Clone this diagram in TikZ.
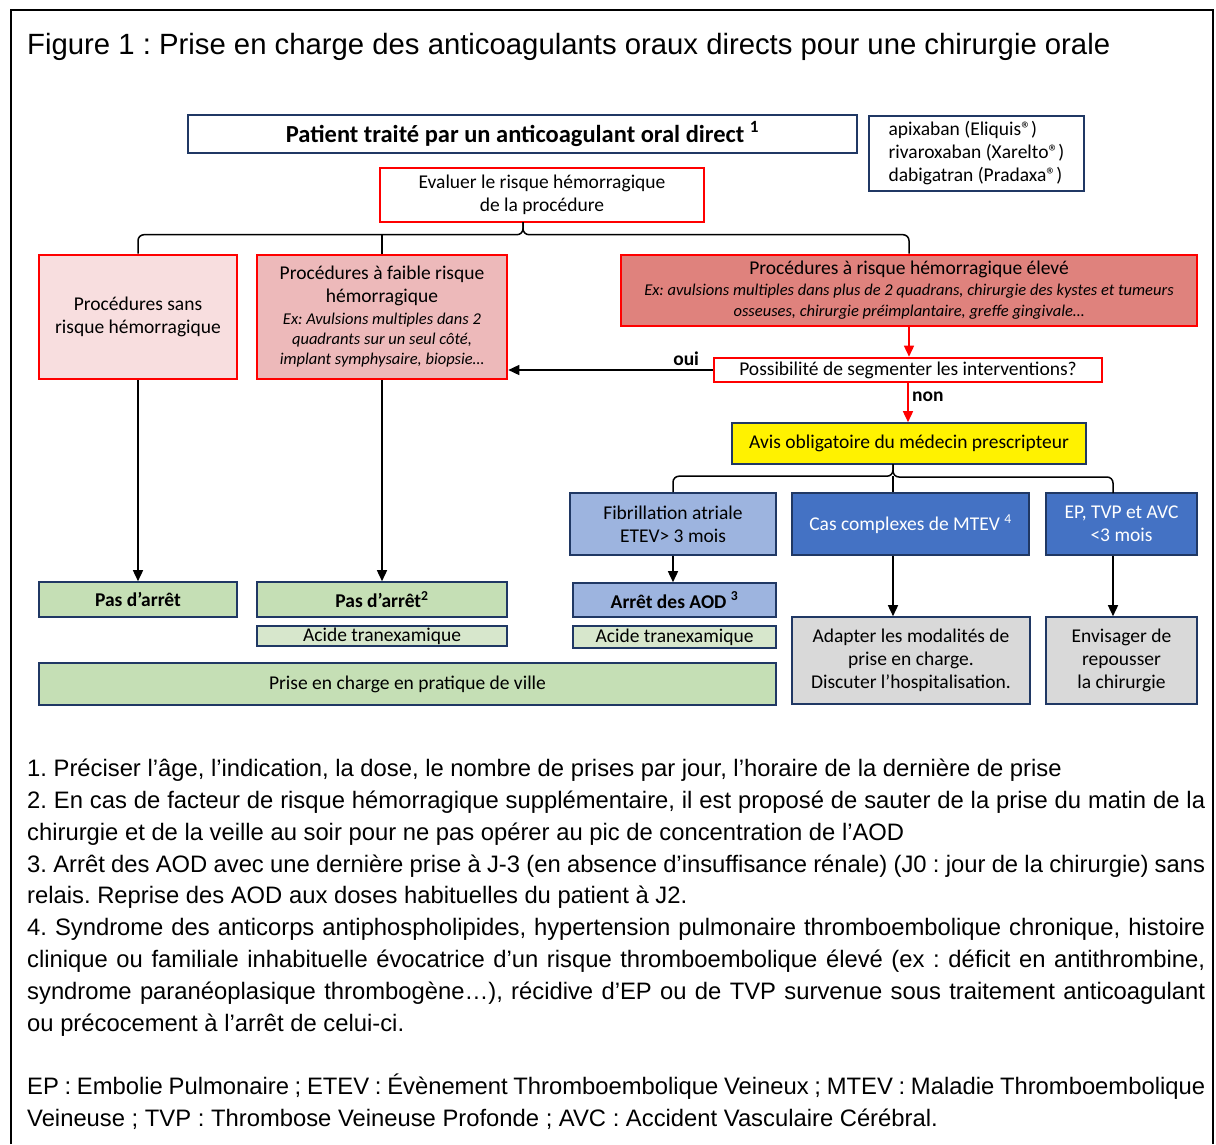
\documentclass[tikz,border=0pt]{standalone}
\usepackage{fontspec}
\setmainfont{Liberation Sans}
\newfontfamily\boxfont{Carlito}
\usetikzlibrary{arrows.meta,calc}
\frenchspacing

\definecolor{navy}{HTML}{203864}
\definecolor{redline}{HTML}{FF0000}
\definecolor{pinklight}{HTML}{F8DEDF}
\definecolor{pinkmid}{HTML}{EDB9BA}
\definecolor{pinkdark}{HTML}{DF827D}
\definecolor{bluelight}{HTML}{9DB4DF}
\definecolor{bluedark}{HTML}{4472C4}
\definecolor{greenmid}{HTML}{C5DFB5}
\definecolor{greenlight}{HTML}{D7E7CC}
\definecolor{greybox}{HTML}{D9D9D9}

\newcommand{\exfont}{\itshape\fontsize{16.5}{20}\selectfont}

\tikzset{
  box/.style={draw=navy, line width=1.6pt, align=center, inner sep=1pt,
    font=\boxfont\fontsize{19.5}{23}\selectfont},
  redbox/.style={box, draw=redline, line width=2.6pt},
  boldbox/.style={box, font=\boxfont\bfseries\fontsize{19.5}{23}\selectfont},
  arr/.style={line width=1.5pt, -{Triangle[length=11pt,width=10pt]}},
  redarr/.style={arr, draw=redline},
  bracket/.style={line width=1.5pt, rounded corners=6pt},
  answer/.style={font=\boxfont\bfseries\fontsize{19.5}{23}\selectfont},
}

\begin{document}
\begin{tikzpicture}[x=1pt, y=-1pt]
\useasboundingbox (0,0) rectangle (1216,1144);
\draw[line width=1.5pt] (11,1144) -- (11,10) -- (1213,10) -- (1213,1144);
\node[anchor=west, inner sep=0pt, font=\fontsize{29.3}{34}\selectfont] (title) at (27,47)
  {Figure 1 : Prise en charge des anticoagulants oraux directs pour une chirurgie orale};

% Top boxes
\node[box, minimum width=669, minimum height=38, font=\boxfont\bfseries\fontsize{24.5}{28}\selectfont] (patient) at (522.5,134)
  {Patient traité par un anticoagulant oral direct \textsuperscript{1}};
\node[box, minimum width=215, minimum height=75, align=left] (drugs) at (976.5,153.5)
  {apixaban (Eliquis®)\\rivaroxaban (Xarelto®)\\dabigatran (Pradaxa®)};
\node[redbox, fill=white, minimum width=324, minimum height=54] (evaluer) at (542,195)
  {Evaluer le risque hémorragique\\de la procédure};

% Bleeding risk
\node[redbox, fill=pinklight, minimum width=198, minimum height=124] (sans) at (138,317)
  {Procédures sans\\risque hémorragique};
\node[redbox, fill=pinkmid, minimum width=250, minimum height=124, font=\boxfont\fontsize{19.5}{20}\selectfont] (faible) at (382,317)
  {Procédures à faible risque\\[3pt]hémorragique\\[2pt]\exfont Ex: Avulsions multiples dans 2\\\exfont quadrants sur un seul côté,\\\exfont implant symphysaire, biopsie…};
\node[redbox, fill=pinkdark, minimum width=576, minimum height=71, font=\boxfont\fontsize{19.5}{21}\selectfont] (eleve) at (909,290.5)
  {Procédures à risque hémorragique élevé\\\exfont Ex: avulsions multiples dans plus de 2 quadrans, chirurgie des kystes et tumeurs\\\exfont osseuses, chirurgie préimplantaire, greffe gingivale…};
\node[redbox, fill=white, minimum width=388, minimum height=24, inner sep=0pt] (possib) at (908,370)
  {Possibilité de segmenter les interventions?};
\node[box, fill=yellow, minimum width=354, minimum height=41] (avis) at (909,443.5)
  {Avis obligatoire du médecin prescripteur};

% Thrombotic situations
\node[box, fill=bluelight, minimum width=206, minimum height=62] (fib) at (673,524) {Fibrillation atriale\\ETEV> 3 mois};
\node[box, fill=bluedark, text=white, minimum width=237, minimum height=62] (cas) at (910.5,524) {Cas complexes de MTEV \textsuperscript{4}};
\node[box, fill=bluedark, text=white, minimum width=151, minimum height=62] (ep) at (1121.5,524) {EP, TVP et AVC\\<3 mois};

% Management
\node[boldbox, fill=greenmid, minimum width=198, minimum height=35] (pas1) at (138,599.5) {Pas d’arrêt};
\node[boldbox, fill=greenmid, minimum width=250, minimum height=35] (pas2) at (382,599.5) {Pas d’arrêt\textsuperscript{2}};
\node[boldbox, fill=bluelight, minimum width=203, minimum height=34] (arret) at (674.5,600) {Arrêt des AOD \textsuperscript{3}};
\node[box, fill=greenlight, minimum width=250, minimum height=20, inner sep=0pt] (acide1) at (382,636) {Acide tranexamique};
\node[box, fill=greenlight, minimum width=203, minimum height=22, inner sep=0pt] (acide2) at (674.5,637) {Acide tranexamique};
\node[box, fill=greenmid, minimum width=737, minimum height=42] (prise) at (407.5,684) {Prise en charge en pratique de ville};
\node[box, fill=greybox, minimum width=238, minimum height=87] (adapter) at (911,660.5)
  {Adapter les modalités de\\prise en charge.\\Discuter l’hospitalisation.};
\node[box, fill=greybox, minimum width=151, minimum height=87] (envis) at (1121.5,660.5)
  {Envisager de\\repousser\\la chirurgie};

% Connectors
\coordinate (tip1) at (523,222);
\coordinate (tip2) at (893,464);
\coordinate (b2r) at (1113,493);
\draw[bracket] (sans.north) -- ++(0,-19) -| (tip1);
\draw[bracket] (eleve.north) -- ++(0,-19) -| (tip1);
\draw[line width=1.5pt] (faible.north) -- ++(0,-19);
\draw[bracket] (fib.north) -- ++(0,-16) -| (tip2);
\draw[bracket] (b2r) -- ++(0,-16) -| (tip2);
\draw[line width=1.5pt] (cas.north -| tip2) -- ++(0,-16);
\draw[arr] (sans) -- (pas1);
\draw[arr] (faible) -- (pas2);
\draw[arr] (fib.south) -- (fib.south |- arret.north);
\draw[arr] (cas.south -| tip2) -- (adapter.north -| tip2);
\draw[arr] (ep.south -| b2r) -- (envis.north -| b2r);
\draw[redarr] (eleve.south) -- (eleve.south |- possib.north);
\draw[redarr] (possib.south) -- (possib.south |- avis.north)
  node[pos=0.35, right, answer] {non};
\draw[arr] (possib.west) -- (possib.west -| faible.east)
  node[pos=0.13, above, answer] {oui};

% Notes
\node[anchor=north west, inner sep=0pt, text width=1178pt, align=justify, font=\fontsize{23.8}{31.8}\selectfont] (notes) at (27,759)
  {1. Préciser l’âge, l’indication, la dose, le nombre de prises par jour, l’horaire de la dernière de prise\par
  2. En cas de facteur de risque hémorragique supplémentaire, il est proposé de sauter de la prise du matin de la\linebreak chirurgie et de la veille au soir pour ne pas opérer au pic de concentration de l’AOD\par
  3. Arrêt des AOD avec une dernière prise à J-3 (en absence d’insuffisance rénale) (J0 : jour de la chirurgie) sans\linebreak relais. Reprise des AOD aux doses habituelles du patient à J2.\par
  4. Syndrome des anticorps antiphospholipides, hypertension pulmonaire thromboembolique chronique, histoire\linebreak clinique ou familiale inhabituelle évocatrice d’un risque thromboembolique élevé (ex : déficit en antithrombine,\linebreak syndrome paranéoplasique thrombogène…), récidive d’EP ou de TVP survenue sous traitement anticoagulant\linebreak ou précocement à l’arrêt de celui-ci.\par\vspace{31.8pt}
  EP : Embolie Pulmonaire ; ETEV : Évènement Thromboembolique Veineux ; MTEV : Maladie Thromboembolique\linebreak Veineuse ; TVP : Thrombose Veineuse Profonde ; AVC : Accident Vasculaire Cérébral.};
\end{tikzpicture}
\end{document}
